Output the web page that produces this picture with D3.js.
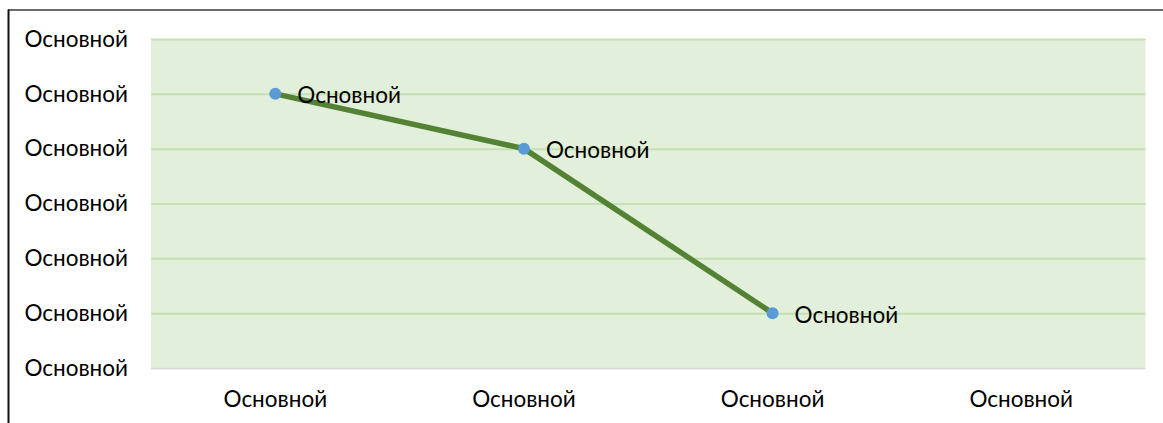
<!DOCTYPE html>
<html><head><meta charset="utf-8">
<script src="https://cdn.jsdelivr.net/npm/d3@7"></script>
<style>body{margin:0;background:#fff}svg{display:block}</style>
</head><body>
<script>
const categories = ["Основной","Основной","Основной","Основной"];
const values = [5, 4, 1, null];
const yTicks = [0,1,2,3,4,5,6];
const yTickLabels = ["Основной","Основной","Основной","Основной","Основной","Основной","Основной"];
const dataLabels = ["Основной","Основной","Основной"];

const W = 1163, H = 423;
const m = {left:151, right:1163-1145.5, top:39, bottom:423-368};
const svg = d3.select("body").append("svg").attr("width",W).attr("height",H);
const font = "Lato, Carlito, 'Open Sans', sans-serif";
const fs = 22.5;

// outer frame
svg.append("line").attr("x1",8).attr("x2",W).attr("y1",10).attr("y2",10).attr("stroke","#3a3a3a").attr("stroke-width",1.6);
svg.append("line").attr("x1",8.5).attr("x2",8.5).attr("y1",9.5).attr("y2",H).attr("stroke","#111").attr("stroke-width",2);

const x = d3.scaleBand().domain(d3.range(categories.length)).range([m.left, W-m.right]);
const y = d3.scaleLinear().domain([0,6]).range([H-m.bottom, m.top]);

svg.append("rect").attr("x",m.left).attr("y",m.top).attr("width",W-m.right-m.left).attr("height",H-m.bottom-m.top).attr("fill","#E2EFDA");

// gridlines
const gy = svg.append("g").attr("transform",`translate(${m.left},0)`)
  .call(d3.axisLeft(y).tickValues(yTicks.slice(1)).tickSize(-(W-m.right-m.left)).tickFormat(""));
gy.select(".domain").remove();
gy.selectAll(".tick line").attr("stroke","#C5E0B3").attr("stroke-width",2);

// bottom axis line
svg.append("line").attr("x1",m.left).attr("x2",W-m.right).attr("y1",y(0)+0.5).attr("y2",y(0)+0.5).attr("stroke","#D9D9D9").attr("stroke-width",1.5);

// y labels
const ya = svg.append("g").attr("transform",`translate(128,0)`)
  .call(d3.axisLeft(y).tickValues(yTicks).tickSize(0).tickPadding(0).tickFormat((d,i)=>yTickLabels[i]));
ya.select(".domain").remove();
ya.selectAll("text").attr("font-family",font).attr("font-size",fs).attr("fill","#000");

// x labels
const xa = svg.append("g").attr("transform",`translate(0,${H-m.bottom})`)
  .call(d3.axisBottom(x).tickSize(0).tickPadding(23).tickFormat((d,i)=>categories[i]));
xa.select(".domain").remove();
xa.selectAll("text").attr("font-family",font).attr("font-size",fs).attr("fill","#000");

const pts = values.map((v,i)=>({i,v})).filter(d=>d.v!=null);
const cx = d=>x(d.i)+x.bandwidth()/2;
svg.append("path").datum(pts)
  .attr("d", d3.line().x(cx).y(d=>y(d.v)))
  .attr("fill","none").attr("stroke","#548235").attr("stroke-width",5.5).attr("stroke-linejoin","round");

svg.selectAll("circle.pt").data(pts).join("circle").attr("class","pt")
  .attr("cx",cx).attr("cy",d=>y(d.v)).attr("r",6).attr("fill","#5B9BD5");

svg.selectAll("text.dl").data(pts).join("text").attr("class","dl")
  .attr("x",d=>cx(d)+22).attr("y",d=>y(d.v)+1.5).attr("dy","0.35em")
  .attr("font-family",font).attr("font-size",fs).attr("fill","#000")
  .text((d,k)=>dataLabels[k]);
</script>
</body></html>
